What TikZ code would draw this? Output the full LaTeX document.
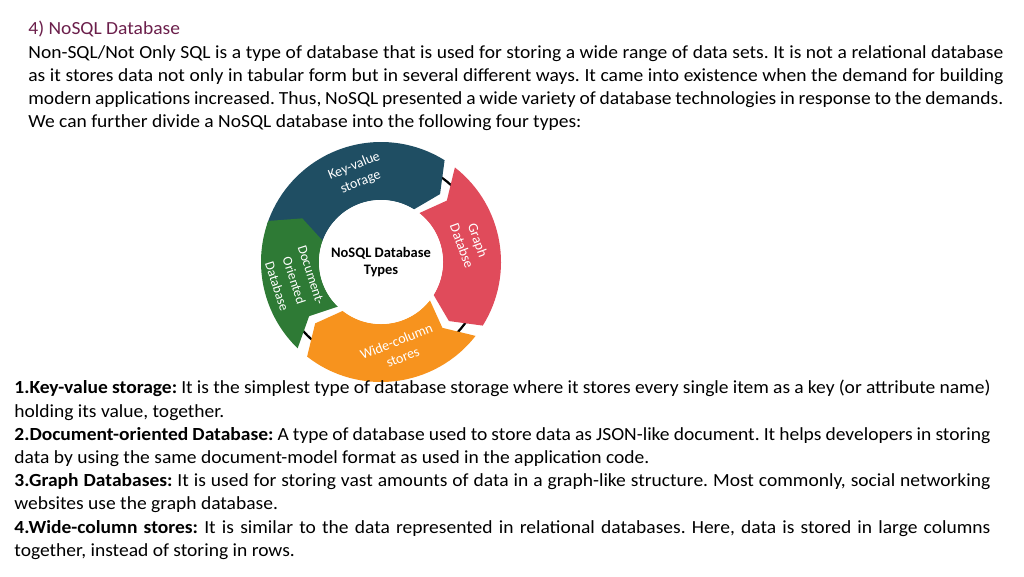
\documentclass[tikz,border=0pt]{standalone}
\usepackage{fontspec}
\setmainfont{Carlito}
\definecolor{kvcol}{HTML}{1F4E63}
\definecolor{grcol}{HTML}{E04B5B}
\definecolor{wccol}{HTML}{F7931E}
\definecolor{dbcol}{HTML}{2E7A35}
\definecolor{headcol}{HTML}{6B1F4B}
\newcommand{\segpath}[3]{% start angle, end angle, colour
  \fill[#3] (#1:62) arc[start angle=#1, end angle=#2, radius=62]
    -- (#2-9:90) -- (#2:120) arc[start angle=#2, end angle=#1, radius=120]
    -- (#1-9:90) -- cycle;}
\frenchspacing
\hyphenpenalty=10000
\begin{document}
\begin{tikzpicture}[x=1pt, y=-1pt, thick]
\useasboundingbox (0,0) rectangle (1024,576);
\tikzset{bodytext/.style={anchor=north west, inner sep=0pt, align=justify,
  font=\addfontfeature{FakeStretch=1.055}\fontsize{18.5}{23.2}\selectfont}}
\tikzset{seglabel/.style={text=white, align=center, font=\fontsize{14}{17}\selectfont}}
\node[bodytext, text width=975pt] (intro) at (28,21) {%
{\color{headcol}4) NoSQL Database}\\
Non-SQL/Not Only SQL is a type of database that is used for storing a wide range of data sets. It is not a relational database as it stores data not only in tabular form but in several different ways. It came into existence when the demand for building modern applications increased. Thus, NoSQL presented a wide variety of database technologies in response to the demands.\\
We can further divide a NoSQL database into the following four types:};
\begin{scope}[shift={(381,262)}, y=1pt]
\draw[line width=2.2pt] (0,0) circle[radius=104];
\segpath{162}{58}{kvcol}
\segpath{52}{-32}{grcol}
\segpath{-38}{-128}{wccol}
\segpath{-134}{-200}{dbcol}
\fill[white] (0,0) circle[radius=62];
\node[font=\bfseries\fontsize{14.5}{17}\selectfont, align=center] (center) at (0,0) {NoSQL Database\\Types};
\node[seglabel, rotate=22] (kv) at (105:91) {Key-value\\storage};
\node[seglabel, rotate=-70] (gr) at (12:91) {Graph\\Databse};
\node[seglabel, rotate=22] (wc) at (-78:89) {Wide-column\\stores};
\node[seglabel, rotate=-72, font=\fontsize{13.5}{18}\selectfont] (doc) at (-168:89) {Document-\\Oriented\\Database};
\end{scope}
\node[bodytext, text width=976pt] (list) at (14,380) {%
\textbf{1.Key-value storage:} It is the simplest type of database storage where it stores every single item as a key (or attribute name) holding its value, together.\\
\textbf{2.Document-oriented Database:} A type of database used to store data as JSON-like document. It helps developers in storing data by using the same document-model format as used in the application code.\\
\textbf{3.Graph Databases:} It is used for storing vast amounts of data in a graph-like structure. Most commonly, social networking websites use the graph database.\\
\textbf{4.Wide-column stores:} It is similar to the data represented in relational databases. Here, data is stored in large columns together, instead of storing in rows.};
\end{tikzpicture}
\end{document}
